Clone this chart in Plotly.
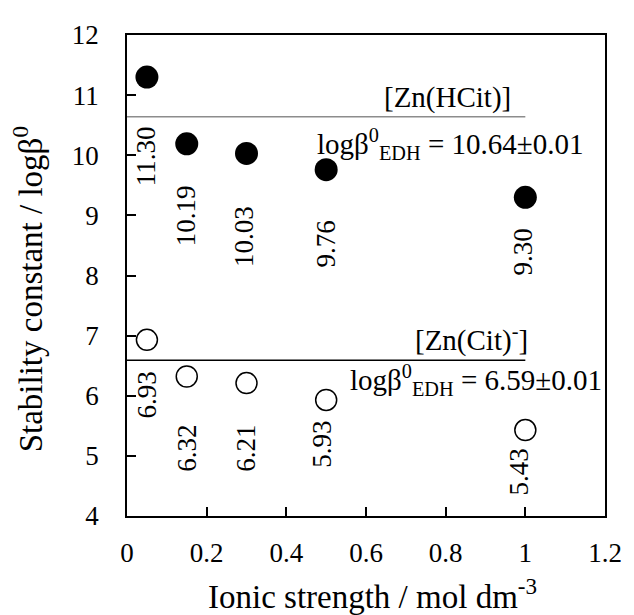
import plotly.graph_objects as go

ionic = [0.05, 0.15, 0.3, 0.5, 1.0]
hcit = [11.30, 10.19, 10.03, 9.76, 9.30]
cit = [6.93, 6.32, 6.21, 5.93, 5.43]
hcit_labels = ["11.30", "10.19", "10.03", "9.76", "9.30"]
cit_labels = ["6.93", "6.32", "6.21", "5.93", "5.43"]
hcit_label_x = [0.05, 0.15, 0.295, 0.5, 0.995]
cit_label_x = [0.05, 0.15, 0.298, 0.49, 0.985]
hcit_label_y = [9.98, 9.0, 8.65, 8.52, 8.39]
cit_label_y = [6.02, 5.13, 5.13, 5.19, 4.73]
edh_hcit = 10.64
edh_cit = 6.59

FONT = "Liberation Serif"

fig = go.Figure()
fig.add_trace(go.Scatter(x=[0, 1.0], y=[edh_hcit, edh_hcit], mode="lines",
                         line=dict(color="#8c8c8c", width=1.6), showlegend=False, hoverinfo="skip"))
fig.add_trace(go.Scatter(x=[0, 1.0], y=[edh_cit, edh_cit], mode="lines",
                         line=dict(color="black", width=1.6), showlegend=False, hoverinfo="skip"))
fig.add_trace(go.Scatter(x=ionic, y=hcit, mode="markers",
                         marker=dict(color="black", size=23, line=dict(color="black", width=0)),
                         showlegend=False))
fig.add_trace(go.Scatter(x=ionic, y=cit, mode="markers",
                         marker=dict(color="white", size=21, line=dict(color="black", width=1.5)),
                         showlegend=False))

for x, y, t in zip(hcit_label_x, hcit_label_y, hcit_labels):
    fig.add_annotation(x=x, y=y, text=t, textangle=-90, showarrow=False,
                       font=dict(family=FONT, size=27, color="black"))
for x, y, t in zip(cit_label_x, cit_label_y, cit_labels):
    fig.add_annotation(x=x, y=y, text=t, textangle=-90, showarrow=False,
                       font=dict(family=FONT, size=27, color="black"))

fig.add_annotation(x=0.805, y=10.96, text="[Zn(HCit)]", showarrow=False,
                   font=dict(family=FONT, size=29, color="black"))
fig.add_annotation(x=0.81, y=10.19, text="logβ<sup>0</sup><sub>EDH</sub> = 10.64±0.01", showarrow=False,
                   font=dict(family=FONT, size=29, color="black"))
fig.add_annotation(x=0.866, y=6.95, text="[Zn(Cit)<sup>-</sup>]", showarrow=False,
                   font=dict(family=FONT, size=29, color="black"))
fig.add_annotation(x=0.877, y=6.27, text="logβ<sup>0</sup><sub>EDH</sub> = 6.59±0.01", showarrow=False,
                   font=dict(family=FONT, size=29, color="black"))

# axis titles
fig.add_annotation(xref="paper", yref="paper", x=0.513, y=-0.163,
                   text="Ionic strength / mol dm<sup>-3</sup>", showarrow=False,
                   xanchor="center", yanchor="middle",
                   font=dict(family=FONT, size=33, color="black"))
fig.add_annotation(xref="paper", yref="paper", x=-0.207, y=0.4714,
                   text="Stability constant / logβ<sup>0</sup>", showarrow=False, textangle=-90,
                   xanchor="center", yanchor="middle",
                   font=dict(family=FONT, size=33, color="black"))

fig.update_layout(
    width=626, height=607,
    margin=dict(l=119, r=20, t=18, b=99),
    plot_bgcolor="white", paper_bgcolor="white",
    font=dict(family=FONT, size=27, color="black"),
    xaxis=dict(range=[0, 1.2], tickvals=[0, 0.2, 0.4, 0.6, 0.8, 1.0, 1.2],
               ticktext=["0", "0.2", "0.4", "0.6", "0.8", "1", "1.2"],
               tickfont=dict(family=FONT, size=27, color="black"),
               ticks="inside", ticklen=9, tickwidth=1.6, tickcolor="black",
               ticklabelstandoff=12,
               showline=True, linecolor="black", linewidth=1.6, mirror=True,
               showgrid=False, zeroline=False),
    yaxis=dict(range=[4, 12], tickvals=list(range(4, 13)),
               tickfont=dict(family=FONT, size=27, color="black"),
               ticks="inside", ticklen=9, tickwidth=1.6, tickcolor="black",
               ticklabelstandoff=21,
               showline=True, linecolor="black", linewidth=1.6, mirror=True,
               showgrid=False, zeroline=False),
)

fig.write_html("out.html")
